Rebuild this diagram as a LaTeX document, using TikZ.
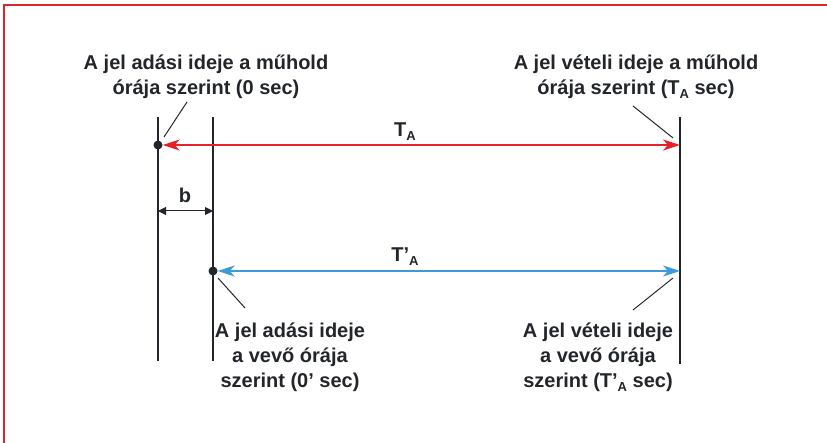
\documentclass[tikz,border=0pt]{standalone}
\usepackage{fontspec}
\setmainfont{Liberation Sans}
\usetikzlibrary{arrows.meta}
\definecolor{framered}{HTML}{D9262E}
\definecolor{arrred}{HTML}{E8202A}
\definecolor{arrblue}{HTML}{3C9AD8}
\definecolor{txt}{HTML}{22252A}
\newcommand\sbA{\raisebox{-0.35ex}{\fontsize{13}{13}\selectfont A}}
\tikzset{
  vline/.style={line width=1.8pt, txt},
  leader/.style={line width=1pt, txt},
  dot/.style={circle, fill=txt, inner sep=0pt, minimum size=9pt},
  lbl/.style={align=center, text=txt, font=\bfseries\fontsize{20}{25.5}\selectfont, inner sep=0pt},
  bigarrow/.style={line width=1.8pt, {Stealth[length=17pt,width=11pt,inset=5pt]}-{Stealth[length=17pt,width=11pt,inset=5pt]}},
  smallarrow/.style={line width=1pt, txt, {Triangle[length=8pt,width=8pt]}-{Triangle[length=8pt,width=8pt]}}
}
\begin{document}
\begin{tikzpicture}[x=1pt,y=-1pt]
\useasboundingbox (0,0) rectangle (827,443);
% frame
\coordinate (fa) at (4,443);
\coordinate (fb) at (4,5);
\coordinate (fc) at (827,5);
\draw[framered, line width=2.6pt] (fa) -- (fb) -- (fc);
% vertical lines
\coordinate (s1t) at (158,117); \coordinate (s1b) at (158,361);
\coordinate (r1t) at (213,117); \coordinate (r1b) at (213,361);
\coordinate (e1t) at (680,117); \coordinate (e1b) at (680,364);
\draw[vline] (s1t) -- (s1b);
\draw[vline] (r1t) -- (r1b);
\draw[vline] (e1t) -- (e1b);
% dots
\node[dot] (d1) at (158,145) {};
\node[dot] (d2) at (213,271) {};
\coordinate (ra) at (680,145);
\coordinate (ba) at (680,271);
% arrows
\draw[bigarrow, arrred] (d1.east) -- (ra);
\draw[bigarrow, arrblue] (d2.east) -- (ba);
\coordinate (bl) at (158,211);
\coordinate (br) at (213,211);
\draw[smallarrow] (bl) -- (br);
% arrow labels
\node[lbl, anchor=base] (ta) at (405,137) {T\sbA};
\node[lbl, anchor=base] (tpa) at (405,262) {T’\sbA};
\node[lbl, anchor=base] (b) at (185,203) {b};
% text labels (base = last line)
\node[lbl, anchor=base] (t1) at (206,95) {A jel adási ideje a műhold\\órája szerint (0 sec)};
\node[lbl, anchor=base] (t2) at (636,95) {A jel vételi ideje a műhold\\órája szerint (T\sbA{} sec)};
\node[lbl, anchor=base] (t3) at (290,388) {A jel adási ideje\\a vevő órája\\szerint (0’ sec)};
\node[lbl, anchor=base] (t4) at (598,388) {A jel vételi ideje\\a vevő órája\\szerint (T’\sbA{} sec)};
% leaders
\coordinate (l1a) at (187,102); \coordinate (l1b) at (164,137);
\coordinate (l2a) at (633,106); \coordinate (l2b) at (673,138);
\coordinate (l3a) at (218,278); \coordinate (l3b) at (245,308);
\coordinate (l4a) at (673,278); \coordinate (l4b) at (633,310);
\draw[leader] (l1a) -- (l1b);
\draw[leader] (l2a) -- (l2b);
\draw[leader] (l3a) -- (l3b);
\draw[leader] (l4a) -- (l4b);
\end{tikzpicture}
\end{document}
